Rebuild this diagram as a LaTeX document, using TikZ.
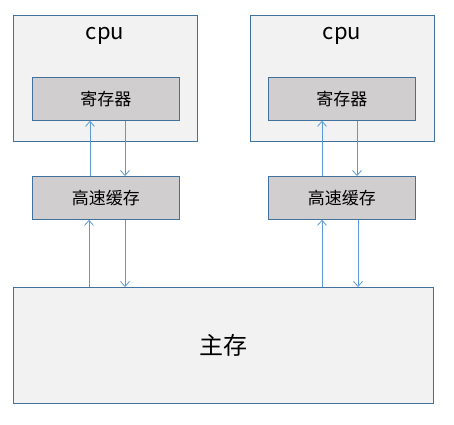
\documentclass[tikz,border=0pt]{standalone}
\usepackage{fontspec}
\newfontfamily\cjk{Noto Sans CJK SC}
\usetikzlibrary{arrows.meta}
\definecolor{bordc}{RGB}{65,113,156}
\definecolor{arrc}{RGB}{91,155,213}
\definecolor{lightf}{RGB}{242,242,242}
\definecolor{darkf}{RGB}{208,206,206}
\tikzset{
  outerbox/.style={draw=bordc, fill=lightf, line width=0.8pt},
  innerbox/.style={draw=bordc, fill=darkf, line width=0.8pt, minimum width=147pt, minimum height=43pt, anchor=north west, font=\cjk\fontsize{17}{20}\selectfont},
  cputext/.style={font=\cjk\fontsize{22}{26}\selectfont},
  flow/.style={draw=arrc, line width=0.8pt, -{Straight Barb[length=5pt,width=9pt]}},
}
\begin{document}
\begin{tikzpicture}[x=1pt,y=-1pt]
\useasboundingbox (0,0) rectangle (454,424);
% left cpu
\draw[outerbox] (13,15) rectangle (197,141);
\node[cputext] (cpuL) at (105,36) {cpu};
\node[innerbox] (regL) at (32,77) {寄存器};
\node[innerbox] (cacheL) at (32,176) {高速缓存};
% right cpu
\draw[outerbox] (250,15) rectangle (434,141);
\node[cputext] (cpuR) at (342,36) {cpu};
\node[innerbox] (regR) at (268,77) {寄存器};
\node[innerbox] (cacheR) at (268,176) {高速缓存};
% main memory
\node[outerbox, minimum width=420pt, minimum height=116pt, anchor=north west, font=\cjk\fontsize{24}{28}\selectfont] (mem) at (13,287) {主存};
% arrows left
\draw[flow] (cacheL.north -| 90,0) -- (regL.south -| 90,0);
\draw[flow] (regL.south -| 125,0) -- (cacheL.north -| 125,0);
\draw[flow] (mem.north -| 89,0) -- (cacheL.south -| 89,0);
\draw[flow] (cacheL.south -| 125,0) -- (mem.north -| 125,0);
% arrows right
\draw[flow] (cacheR.north -| 322,0) -- (regR.south -| 322,0);
\draw[flow] (regR.south -| 357,0) -- (cacheR.north -| 357,0);
\draw[flow] (mem.north -| 322,0) -- (cacheR.south -| 322,0);
\draw[flow] (cacheR.south -| 358,0) -- (mem.north -| 358,0);
\end{tikzpicture}
\end{document}
